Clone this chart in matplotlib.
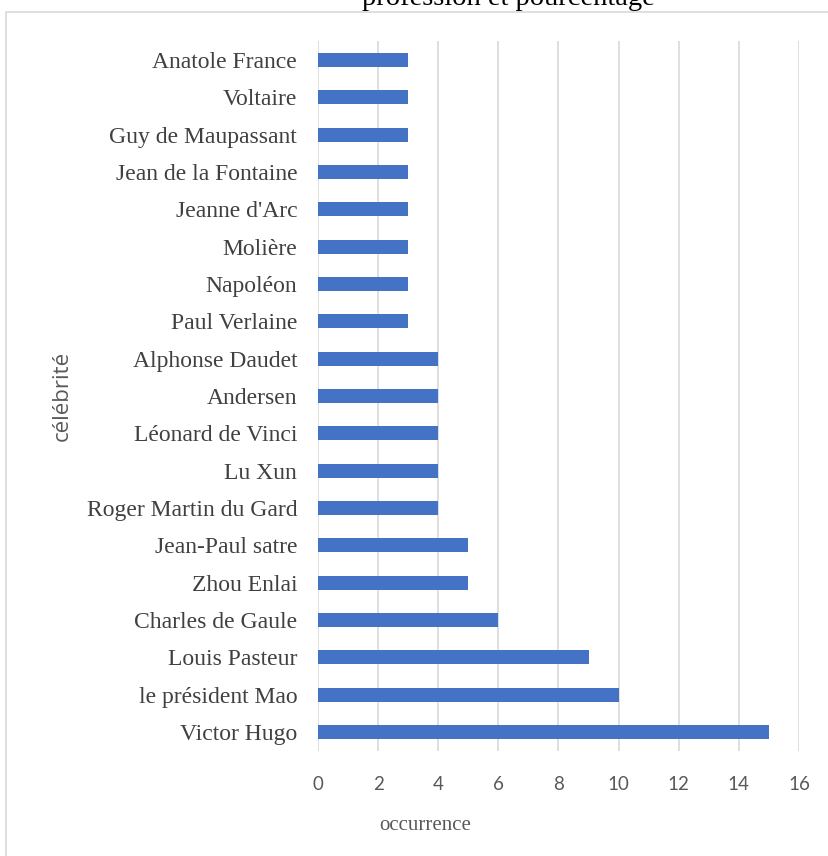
import matplotlib.pyplot as plt
from matplotlib.patches import Rectangle

names = ['Victor Hugo', 'le président Mao', 'Louis Pasteur', 'Charles de Gaule',
         'Zhou Enlai', 'Jean-Paul satre', 'Roger Martin du Gard', 'Lu Xun',
         'Léonard de Vinci', 'Andersen', 'Alphonse Daudet', 'Paul Verlaine',
         'Napoléon', 'Molière', "Jeanne d'Arc", 'Jean de la Fontaine',
         'Guy de Maupassant', 'Voltaire', 'Anatole France']
counts = [15, 10, 9, 6, 5, 5, 4, 4, 4, 4, 4, 3, 3, 3, 3, 3, 3, 3, 3]
xticks = [0, 2, 4, 6, 8, 10, 12, 14, 16]

W, H = 829, 856
fig = plt.figure(figsize=(W / 100, H / 100), dpi=100)

# chart frame (cropped on the right and bottom)
frame = Rectangle((6 / W, -0.1), 1.2, 1 - 12 / H + 0.1, transform=fig.transFigure,
                  fill=False, edgecolor='#d9d9d9', linewidth=1.2)
fig.patches.append(frame)

left, right = 318 / W, 799 / W
top, bottom = 1 - 41.3 / H, 1 - 750.7 / H
ax = fig.add_axes([left, bottom, right - left, top - bottom])

y = range(len(names))
ax.barh(y, counts, height=0.375, color='#4472C4', zorder=3)
ax.set_ylim(-0.5, len(names) - 0.5)
ax.set_xlim(0, 16)
ax.set_xticks(xticks)
ax.set_xticklabels([str(t) for t in xticks], fontfamily='Lato', fontsize=13.5, color='#595959')
ax.set_yticks(list(y))
ax.set_yticklabels(names, fontfamily='Liberation Serif', fontsize=17, color='#404040')
ax.tick_params(axis='both', length=0)
ax.tick_params(axis='x', pad=18)
ax.tick_params(axis='y', pad=15)
ax.grid(axis='x', color='#d9d9d9', linewidth=1.2, zorder=0)
for s in ax.spines.values():
    s.set_visible(False)

fig.text(425 / W, 1 - 826 / H, 'occurrence', ha='center', va='center',
         fontfamily='Liberation Serif', fontsize=15, color='#595959')
fig.text(62 / W, 1 - 396 / H, 'célébrité', rotation=90, ha='center', va='center',
         fontfamily='Open Sans', fontsize=16, color='#595959')
fig.text(508 / W, 1 - 5 / H, 'profession et pourcentage', ha='center', va='baseline',
         fontfamily='Liberation Serif', fontsize=20.5, color='#000000')

fig.savefig('out.png', dpi=100)
